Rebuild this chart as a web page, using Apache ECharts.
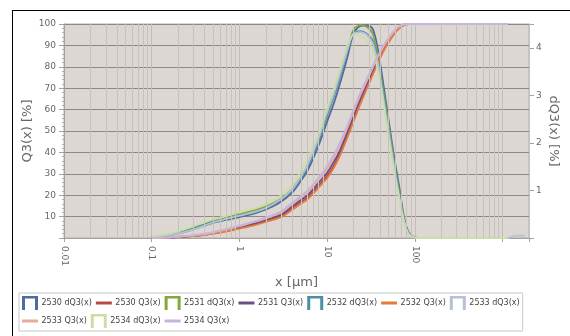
<!DOCTYPE html>
<html>
<head>
<meta charset="utf-8">
<script src="https://cdn.jsdelivr.net/npm/echarts@6/dist/echarts.min.js"></script>
<style>
  html, body { margin: 0; padding: 0; background: #fff; }
  #frame { position: absolute; left: 12px; top: 10px; width: 600px; height: 400px; border-left: 1px solid #000; border-top: 1px solid #000; }
  #chart { position: absolute; left: 0; top: 0; width: 570px; height: 336px; }
</style>
</head>
<body>
<div id="frame"></div>
<div id="chart"></div>
<script>
// particle size (µm)
const sizes = [0.1, 0.15, 0.2, 0.3, 0.4, 0.5, 0.7, 1, 1.5, 2, 3, 4, 5, 6, 8, 10, 12, 14, 17, 20, 24, 28, 33, 38, 44, 50, 58, 66, 75, 85, 100, 120, 200, 500, 1150, 1400, 1800]

// density distributions dQ3 (%), right axis
const dq2530 = [0.02, 0.05, 0.09, 0.18, 0.26, 0.32, 0.38, 0.44, 0.52, 0.6, 0.77, 0.96, 1.2, 1.42, 1.95, 2.45, 2.85, 3.25, 3.8, 4.3, 4.46, 4.47, 4.4, 3.95, 3.2, 2.5, 1.7, 1.1, 0.45, 0.12, 0.01, 0, 0, 0, 0, null, null]
const dq2531 = [0.02, 0.06, 0.11, 0.21, 0.3, 0.36, 0.43, 0.5, 0.58, 0.66, 0.83, 1.03, 1.28, 1.52, 2.05, 2.58, 3.0, 3.4, 3.95, 4.38, 4.47, 4.45, 4.3, 3.8, 3.05, 2.4, 1.6, 1.0, 0.42, 0.1, 0.01, 0, 0, 0, 0, null, null]
const dq2532 = [0.02, 0.06, 0.1, 0.2, 0.28, 0.34, 0.4, 0.47, 0.54, 0.62, 0.8, 1.0, 1.25, 1.5, 2.05, 2.6, 3.0, 3.4, 3.95, 4.32, 4.35, 4.3, 4.15, 3.7, 2.95, 2.3, 1.55, 0.95, 0.4, 0.1, 0.01, 0, 0, 0, 0, null, null]
const dq2533 = [0.02, 0.05, 0.09, 0.18, 0.26, 0.33, 0.4, 0.47, 0.55, 0.63, 0.82, 1.02, 1.28, 1.55, 2.1, 2.65, 3.05, 3.45, 3.95, 4.3, 4.33, 4.28, 4.1, 3.65, 2.9, 2.25, 1.5, 0.9, 0.38, 0.09, 0.01, 0, 0, 0, 0, 0.05, 0.05]
const dq2534 = [0.03, 0.08, 0.14, 0.25, 0.33, 0.39, 0.46, 0.55, 0.63, 0.72, 0.9, 1.12, 1.4, 1.66, 2.2, 2.75, 3.15, 3.55, 4.05, 4.28, 4.25, 4.15, 3.95, 3.5, 2.8, 2.15, 1.4, 0.85, 0.35, 0.08, 0.01, 0, 0, 0, 0, null, null]

// cumulative distributions Q3 (%), left axis
const q2530 = [0, 0.2, 0.5, 1.0, 1.5, 2.2, 3.3, 4.8, 6.5, 8, 10.3, 14, 16.8, 19, 24.5, 29, 34, 39.5, 48, 55.5, 63.6, 70, 76.7, 82.3, 87.7, 91.5, 95.5, 98, 99.5, 100, 100, 100, 100, 100, 100, null, null]
const q2531 = [0, 0.2, 0.5, 1.0, 1.6, 2.3, 3.5, 5, 6.8, 8.4, 11, 14.8, 17.8, 20, 25.8, 30.5, 35.8, 41, 49.5, 57, 65, 71.2, 77.8, 83.2, 88.5, 92.2, 96, 98.3, 99.6, 100, 100, 100, 100, 100, 100, null, null]
const q2532 = [0, 0.2, 0.5, 0.9, 1.4, 2.0, 3.0, 4.4, 6.0, 7.5, 9.8, 13.2, 16, 18.2, 23.5, 28, 33, 38.5, 47, 54.5, 62.8, 69.3, 76.2, 82, 87.5, 91.5, 95.5, 98, 99.5, 100, 100, 100, 100, 100, 100, null, null]
const q2533 = [0, 0.2, 0.6, 1.2, 1.8, 2.6, 3.8, 5.5, 7.5, 9.2, 12, 16, 19, 21.5, 27.5, 32.5, 38, 43.5, 51.5, 59, 67, 73, 79.5, 84.5, 89.5, 93, 96.5, 98.7, 99.7, 100, 100, 100, 100, 100, 100, null, null]
const q2534 = [0, 0.3, 0.7, 1.3, 2, 2.8, 4.1, 5.8, 7.8, 9.6, 12.5, 16.5, 19.6, 22.2, 28.3, 33.5, 39, 44.5, 52.5, 60, 68, 74, 80.3, 85.2, 90, 93.5, 96.8, 98.8, 99.8, 100, 100, 100, 100, 100, 100, null, null]

const xTicks = [0.01, 0.1, 1, 10, 100]
const dqTicks = [1, 2, 3, 4]
const minorGrid = [0.01, 0.1, 1, 10, 100, 1000].flatMap(d => [2, 3, 4, 5, 6, 7, 8, 9].map(m => +(d * m).toPrecision(2))).filter(v => v <= 2000)

const chart = echarts.init(document.getElementById("chart"), null, { renderer: "canvas" })

const pairs = arr => sizes.map((x, i) => [x, arr[i]]).filter(p => p[1] != null)
const dqIcon = "path://M0,0H16V14H13V2.5H3V14H0Z"
const qIcon = "path://M0,0M0,14M0,5.5H16V8.5H0Z"

const defs = [
  { name: "2530 dQ3(x)", data: dq2530, color: "#4f6c9e", axis: 1, icon: dqIcon },
  { name: "2530 Q3(x)", data: q2530, color: "#b84a44", axis: 0, icon: qIcon },
  { name: "2531 dQ3(x)", data: dq2531, color: "#84a640", axis: 1, icon: dqIcon },
  { name: "2531 Q3(x)", data: q2531, color: "#6b4f86", axis: 0, icon: qIcon },
  { name: "2532 dQ3(x)", data: dq2532, color: "#4e8da6", axis: 1, icon: dqIcon },
  { name: "2532 Q3(x)", data: q2532, color: "#e57b3b", axis: 0, icon: qIcon },
  { name: "2533 dQ3(x)", data: dq2533, color: "#b6c0d8", axis: 1, icon: dqIcon },
  { name: "2533 Q3(x)", data: q2533, color: "#eba8a0", axis: 0, icon: qIcon },
  { name: "2534 dQ3(x)", data: dq2534, color: "#cadfa6", axis: 1, icon: dqIcon },
  { name: "2534 Q3(x)", data: q2534, color: "#c6b4da", axis: 0, icon: qIcon },
]

const series = defs.map(d => ({
  name: d.name,
  type: "line",
  yAxisIndex: d.axis,
  data: pairs(d.data),
  showSymbol: false,
  smooth: 0.3,
  color: d.color,
  lineStyle: { width: 1.8, color: d.color },
  z: 3,
}))

// light vertical grid at 2..9 of every decade
series.push({
  type: "line",
  data: [],
  silent: true,
  z: 1,
  markLine: {
    silent: true,
    symbol: "none",
    label: { show: false },
    lineStyle: { color: "#c8c2be", width: 1, type: "solid" },
    data: minorGrid.map(v => ({ xAxis: v })),
    animation: false,
  },
})

const labelFont = { color: "#666", fontSize: 9, fontFamily: "DejaVu Sans" }
const nameFont = { color: "#666", fontSize: 13, fontFamily: "DejaVu Sans" }

chart.setOption({
  animation: false,
  grid: {
    left: 64, top: 24, right: 41, bottom: 98,
    outerBoundsMode: "none",
    containLabel: false,
    show: true,
    backgroundColor: "#ddd7d3",
    borderColor: "#b5afab",
    borderWidth: 1,
  },
  legend: {
    left: 19,
    top: 293,
    width: 502,
    padding: [3, 3],
    itemGap: 4,
    itemWidth: 17,
    itemHeight: 14,
    backgroundColor: "#fff",
    borderColor: "#c8c8c8",
    borderWidth: 1,
    borderRadius: 0,
    textStyle: { color: "#444", fontSize: 8, fontFamily: "DejaVu Sans", width: 46, padding: [0, 0, 0, -2] },
    data: defs.map(d => ({ name: d.name, icon: d.icon })),
  },
  xAxis: {
    type: "log",
    logBase: 10,
    min: 0.01,
    max: 2000,
    name: "x [µm]",
    nameLocation: "middle",
    nameGap: 38,
    nameMoveOverlap: false,
    nameTextStyle: nameFont,
    axisLine: { lineStyle: { color: "#a8a29e" } },
    axisTick: { show: true, length: 4, lineStyle: { color: "#a8a29e" } },
    axisLabel: {
      ...labelFont,
      rotate: -90,
      margin: 8,
      formatter: v => xTicks.includes(+v.toPrecision(2)) ? String(+v.toPrecision(2)) : "",
    },
    splitLine: { show: true, lineStyle: { color: "#c3bcb8", width: 1 } },
  },
  yAxis: [
    {
      type: "value",
      min: 0,
      max: 100,
      interval: 10,
      name: "Q3(x) [%]",
      nameLocation: "middle",
      nameGap: 30,
      nameMoveOverlap: false,
      nameTextStyle: nameFont,
      axisLine: { show: true, lineStyle: { color: "#a8a29e" } },
      axisTick: { show: true, length: 5, lineStyle: { color: "#a8a29e" } },
      minorTick: { show: true, splitNumber: 5, length: 2, lineStyle: { color: "#b5afab" } },
      axisLabel: { ...labelFont, margin: 8, formatter: v => v === 0 ? "" : v },
      splitLine: { show: true, lineStyle: { color: "#8e8884", width: 1 } },
    },
    {
      type: "value",
      min: 0,
      max: 4.5,
      interval: 1,
      name: "dQ3(x) [%]",
      nameLocation: "middle",
      nameGap: 18,
      nameMoveOverlap: false,
      nameRotate: -90,
      nameTextStyle: nameFont,
      axisLine: { show: true, lineStyle: { color: "#a8a29e" } },
      axisTick: { show: true, length: 5, lineStyle: { color: "#a8a29e" } },
      axisLabel: { ...labelFont, margin: 7, formatter: v => dqTicks.includes(v) ? v : "" },
      splitLine: { show: false },
    },
  ],
  series,
})
</script>
</body>
</html>
